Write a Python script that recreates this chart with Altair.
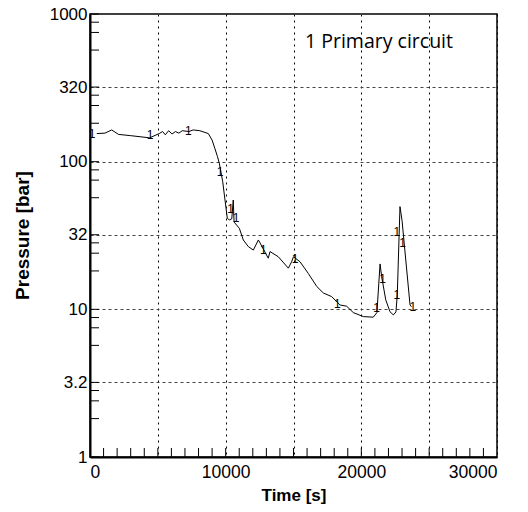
import altair as alt
import pandas as pd

# Main curve (time [s], pressure [bar])
times = [500, 1100, 1600, 2100, 3000, 4400, 5100, 5350, 5550, 5800, 6050, 6300, 6550, 6800,
         7300, 7600, 8100, 8720, 9000, 9214, 9400, 9531, 9781, 10120, 10270, 10450, 10560,
         10620, 11005, 11300, 11670, 12040, 12410, 12530, 13140, 13270, 13880, 14620, 14860,
         15000, 15480, 16090, 16710, 17200, 17810, 18430, 18920, 19410, 20150, 20880, 21150,
         21380, 21500, 21800, 22110, 22360, 22550, 22650, 22850, 23000, 23590, 23700]
pressures = [155, 156, 164, 153, 150, 145, 155, 160, 152, 162, 154, 160, 156, 162,
             160, 164, 162, 155, 140, 122, 108, 97.5, 73.3, 41.4, 40.3, 41, 55,
             39, 35.4, 29.5, 26.6, 25.2, 29.5, 28.2, 22.2, 24.6, 22.7, 19.0, 21.0,
             22.7, 21.0, 17.5, 14.3, 12.9, 12.2, 10.7, 10.5, 9.5, 8.93, 8.85, 9.5,
             20.3, 16.6, 11.6, 9.64, 9.16, 9.6, 12.5, 49.6, 40, 10.7, 10.4]

# Curve-number markers "1"
marker_t = [147, 4423, 7246, 9582, 10370, 10760, 12770, 15110, 18230, 21130, 21570,
            22610, 22610, 23050, 23790]
marker_v = [154, 151.7, 161, 85.5, 47.6, 41.4, 25.2, 21.8, 10.8, 10.2, 16.0,
            12.5, 33.6, 28.0, 10.4]

x_grid = [0, 5000, 10000, 15000, 20000, 25000, 30000]
y_major = [1, 3.2, 10, 32, 100, 320, 1000]
y_minor = [880, 750, 570, 282, 240, 182, 88, 75, 57, 28.2, 24, 18.2,
           8.8, 7.5, 5.7, 2.82, 2.4, 1.82]
x_minor = list(range(1000, 30000, 1000))

legend_text = ["1 Primary circuit"]
legend_t = [15850]
legend_v = [588]

W, H = 407, 443

xscale = alt.Scale(domain=[0, 30000], nice=False, zero=False)
yscale = alt.Scale(type="log", domain=[1, 1000], nice=False)

line_df = pd.DataFrame({"t": times, "v": pressures})
mark_df = pd.DataFrame({"t": marker_t, "v": marker_v, "s": ["1"] * len(marker_t)})
yt_df = pd.DataFrame({"v": y_major + y_minor})
xt_df = pd.DataFrame({"t": x_minor})
leg_df = pd.DataFrame({"t": legend_t, "v": legend_v, "s": legend_text})

line = alt.Chart(line_df).mark_line(color="black", strokeWidth=1).encode(
    x=alt.X("t:Q", scale=xscale, title="Time [s]",
            axis=alt.Axis(values=x_grid, format="d", grid=True,
                          gridDash=[2, 4], gridColor="black", gridWidth=1,
                          labelExpr="datum.value % 10000 == 0 ? datum.label : ''",
                          ticks=False, tickSize=0, labelPadding=6,
                          labelFontSize=17.5, titleFontSize=17,
                          titleY=38, titleBaseline="middle")),
    y=alt.Y("v:Q", scale=yscale, title="Pressure [bar]",
            axis=alt.Axis(values=y_major, grid=True, gridDash=[3, 3],
                          gridColor="#444444", gridWidth=1,
                          labelExpr="datum.value + ''",
                          ticks=False, tickSize=0, labelPadding=3,
                          labelFontSize=17, titleFontSize=19,
                          titleX=-68, titleY=221, titleBaseline="middle")),
    order="t:Q",
)

markers = alt.Chart(mark_df).mark_text(font="Liberation Sans", fontSize=12,
                                       color="black").encode(
    x=alt.X("t:Q", scale=xscale), y=alt.Y("v:Q", scale=yscale), text="s:N")

yticks = alt.Chart(yt_df).mark_rule(color="black", strokeWidth=1).encode(
    y=alt.Y("v:Q", scale=yscale), x=alt.value(0), x2=alt.value(9))

xticks = alt.Chart(xt_df).mark_rule(color="black", strokeWidth=1).encode(
    x=alt.X("t:Q", scale=xscale), y=alt.value(H), y2=alt.value(H - 9))

legend = alt.Chart(leg_df).mark_text(font="Open Sans", fontSize=19.5, color="black",
                                     align="left", baseline="alphabetic").encode(
    x=alt.X("t:Q", scale=xscale), y=alt.Y("v:Q", scale=yscale), text="s:N")

chart = alt.layer(line, yticks, xticks, markers, legend).properties(
    width=W, height=H,
    autosize=alt.AutoSizeParams(type="none"),
    padding={"left": 90, "top": 14, "right": 31, "bottom": 55},
    background="white",
).configure_axis(
    labelFont="Liberation Sans", labelColor="black",
    titleFont="Liberation Sans", titleFontWeight="bold",
    titleColor="black", domainColor="black", domainWidth=2,
).configure_axisX(labelFontSize=17.5).configure_axisY(labelFontSize=17
).configure_view(stroke="black", strokeWidth=1.5)

chart.save("out.html", embed_options={"renderer": "svg", "actions": False})
